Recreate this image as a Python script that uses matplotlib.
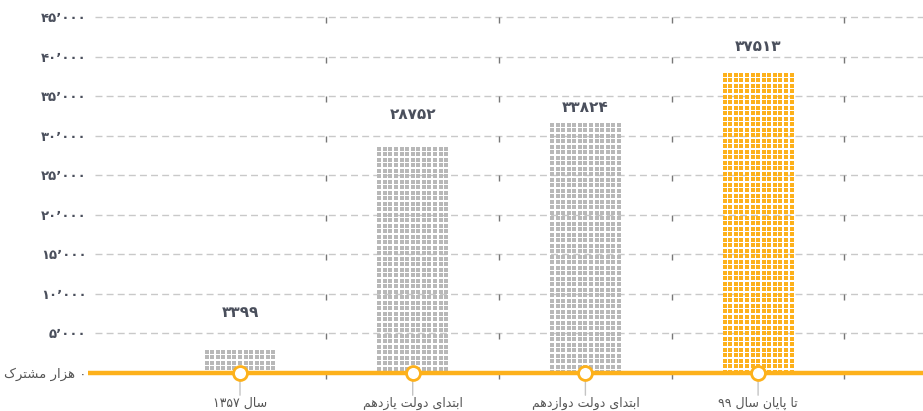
import re
import numpy as np
import matplotlib
matplotlib.use("Agg")
import matplotlib.pyplot as plt
from matplotlib.path import Path

# ---------------- data ----------------
categories = ["سال ۱۳۵۷", "ابتدای دولت یازدهم", "ابتدای دولت دوازدهم", "تا پایان سال ۹۹"]
value_labels = ["۳۳۹۹", "۲۸۷۵۲", "۳۳۸۲۴", "۳۷۵۱۳"]
bar_heights = [2900, 28550, 31600, 37900]          # heights as drawn in the picture
highlight = [False, False, False, True]
y_ticks = [0, 5000, 10000, 15000, 20000, 25000, 30000, 35000, 40000, 45000]
y_tick_labels = ["۰ هزار مشترک", "۵٬۰۰۰", "۱۰٬۰۰۰", "۱۵٬۰۰۰", "۲۰٬۰۰۰",
                 "۲۵٬۰۰۰", "۳۰٬۰۰۰", "۳۵٬۰۰۰", "۴۰٬۰۰۰", "۴۵٬۰۰۰"]

# ---------------- simple Persian shaping (matplotlib has no RTL shaping) ----------------
FORMS = {  # isolated, final, initial, medial
    'ا': ('\uFE8D', '\uFE8E', None, None),
    'ب': ('\uFE8F', '\uFE90', '\uFE91', '\uFE92'),
    'پ': ('\uFB56', '\uFB57', '\uFB58', '\uFB59'),
    'ت': ('\uFE95', '\uFE96', '\uFE97', '\uFE98'),
    'د': ('\uFEA9', '\uFEAA', None, None),
    'ر': ('\uFEAD', '\uFEAE', None, None),
    'ز': ('\uFEAF', '\uFEB0', None, None),
    'س': ('\uFEB1', '\uFEB2', '\uFEB3', '\uFEB4'),
    'ش': ('\uFEB5', '\uFEB6', '\uFEB7', '\uFEB8'),
    'ک': ('\uFB8E', '\uFB8F', '\uFB90', '\uFB91'),
    'ل': ('\uFEDD', '\uFEDE', '\uFEDF', '\uFEE0'),
    'م': ('\uFEE1', '\uFEE2', '\uFEE3', '\uFEE4'),
    'ن': ('\uFEE5', '\uFEE6', '\uFEE7', '\uFEE8'),
    'ه': ('\uFEE9', '\uFEEA', '\uFEEB', '\uFEEC'),
    'و': ('\uFEED', '\uFEEE', None, None),
    'ی': ('\uFBFC', '\uFBFD', '\uFBFE', '\uFBFF'),
}


def fa(s):
    out = []
    n = len(s)
    for k, c in enumerate(s):
        if c not in FORMS:
            out.append(c)
            continue
        prev = s[k - 1] if k > 0 else None
        nxt = s[k + 1] if k + 1 < n else None
        jp = prev in FORMS and FORMS[prev][2] is not None
        jn = nxt in FORMS and FORMS[c][2] is not None
        iso, fin, ini, med = FORMS[c]
        if jp and jn:
            out.append(med)
        elif jp:
            out.append(fin)
        elif jn:
            out.append(ini)
        else:
            out.append(iso)
    tokens = re.findall(r'[۰-۹٬]+|.', ''.join(out))
    return ''.join(reversed(tokens))


plt.rcParams['font.family'] = ['DejaVu Sans']

W, H = 923, 411
fig = plt.figure(figsize=(W / 100, H / 100), dpi=100)

# axes geometry (pixels)
left_px, right_px = 95, 923
top_px, base_px = 17, 373
ax = fig.add_axes([left_px / W, (H - base_px) / H, (right_px - left_px) / W, (base_px - top_px) / H])
px_per_unit = 172.7
x0 = (left_px - 240) / px_per_unit
x1 = (right_px - 240) / px_per_unit
ax.set_xlim(x0, x1)
ax.set_ylim(0, 45000)
for sp in ax.spines.values():
    sp.set_visible(False)
ax.set_xticks([])

ORANGE = "#FDB11B"
GRAY_DOT = "#b8b8b8"
TEXT = "#4a4f5c"

# gridlines
for v in y_ticks[1:]:
    ax.axhline(v, color="#c9c9c9", lw=1.0, ls=(0, (5, 3)), zorder=1, clip_on=False)

# small boundary ticks hanging under each gridline
tick_marker = Path([(0, 0), (0, -1)])
bounds = np.arange(len(categories)) + 0.5
for v in y_ticks:
    ax.plot(bounds, [v] * len(bounds), ls="none", marker=tick_marker,
            markersize=9, markeredgewidth=1.0, color="#777777", zorder=2, clip_on=False)

# y tick labels
ax.set_yticks(y_ticks)
ax.set_yticklabels([fa(t) for t in y_tick_labels])
ax.tick_params(axis="y", length=0, pad=6)
for i, lab in enumerate(ax.get_yticklabels()):
    if i == 0:
        lab.set_fontsize(9.5)
        lab.set_color("#555555")
        lab.set_fontweight("normal")
    else:
        lab.set_fontsize(9.5)
        lab.set_color(TEXT)
        lab.set_fontweight("bold")

# dotted bars
bar_w_px = 70.0
dot_pitch_px = 5.5
dot_px = 3.05
units_per_px_y = 45000 / (base_px - top_px)
for i, h in enumerate(bar_heights):
    col = ORANGE if highlight[i] else GRAY_DOT
    w = bar_w_px / px_per_unit
    ncol = 13
    xs = np.linspace(i - w / 2 + (dot_px / 2) / px_per_unit, i + w / 2 - (dot_px / 2) / px_per_unit, ncol)
    h_px = h / units_per_px_y
    nrow = int((h_px - dot_px / 2) // dot_pitch_px) + 1
    ys = h - (dot_px / 2) * units_per_px_y - np.arange(nrow) * dot_pitch_px * units_per_px_y
    ys = ys[ys > 0]
    X, Y = np.meshgrid(xs, ys)
    ax.scatter(X.ravel(), Y.ravel(), marker="s", s=(dot_px * 0.72) ** 2,
               color=col, linewidths=0, zorder=3)

# value labels above bars
label_offsets_pt = [22, 18, 6, 14]
for i, (h, t) in enumerate(zip(bar_heights, value_labels)):
    ax.annotate(t, xy=(i, h), xytext=(0, label_offsets_pt[i]), textcoords="offset points",
                ha="center", va="bottom", fontsize=11, fontweight="bold", color=TEXT)

# baseline
ax.plot([(88 - 240) / px_per_unit, x1], [0, 0], color=ORANGE, lw=3.2, zorder=4,
        clip_on=False, solid_capstyle="butt")

# category markers, connectors and labels
xc = np.arange(len(categories))
for i in xc:
    ax.annotate("", xy=(i, 0), xytext=(0, -16), textcoords="offset points",
                xycoords="data",
                arrowprops=dict(arrowstyle="-", color="#c4c4c4", lw=1.0,
                                shrinkA=0, shrinkB=0), zorder=3, annotation_clip=False)
ax.plot(xc, [0] * len(xc), ls="none", marker="o", markersize=10,
        markerfacecolor="white", markeredgecolor=ORANGE, markeredgewidth=2.0,
        zorder=5, clip_on=False)
for i, c in enumerate(categories):
    ax.annotate(fa(c), xy=(i, 0), xytext=(0, -17), textcoords="offset points",
                ha="center", va="top", fontsize=9, color="#555555",
                annotation_clip=False)

fig.savefig("out.png", dpi=100)
